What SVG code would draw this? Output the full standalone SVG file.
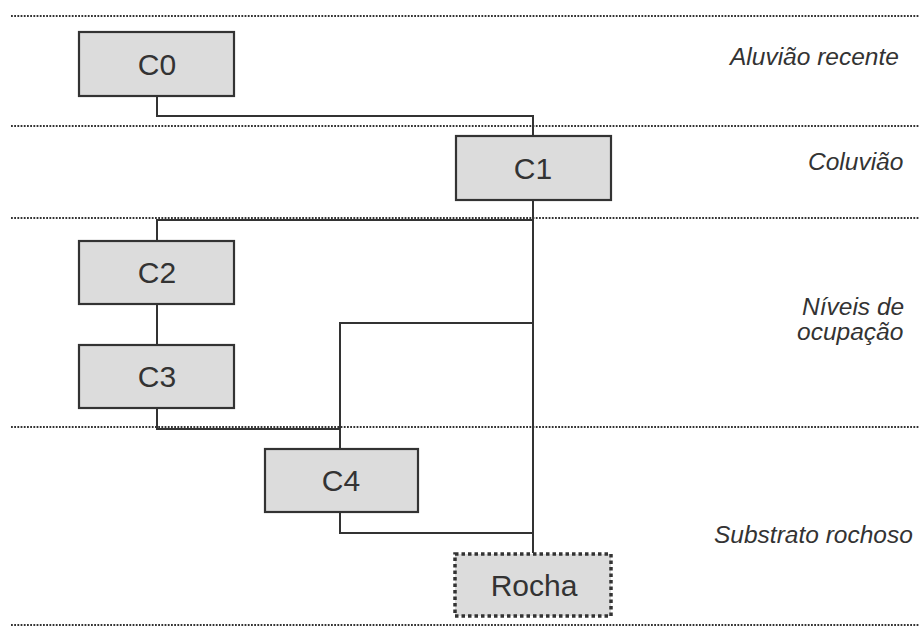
<svg xmlns="http://www.w3.org/2000/svg" width="919" height="627" viewBox="0 0 919 627">
<style>
.bg{fill:#ffffff}
.layer{stroke:#333333;stroke-width:2.2;stroke-dasharray:1.8 1.4;fill:none}
.node rect{fill:#dcdcdc;stroke:#333333;stroke-width:2.2}
.node text{font-family:"Liberation Sans",Arial,sans-serif;font-size:30px;fill:#333333;text-anchor:middle}
#Rocha rect{stroke-dasharray:3.5 3;stroke-width:3.5}
.conn path{fill:none;stroke:#333333;stroke-width:2}
.lbl{font-family:"Liberation Sans",Arial,sans-serif;font-size:24.5px;font-style:italic;fill:#333333}
</style>
<rect class="bg" x="0" y="0" width="919" height="627"/>
<g id="layers">
<line class="layer" x1="11" y1="16" x2="919" y2="16"/>
<line class="layer" x1="11" y1="126" x2="919" y2="126"/>
<line class="layer" x1="11" y1="218" x2="919" y2="218"/>
<line class="layer" x1="11" y1="427" x2="919" y2="427"/>
<line class="layer" x1="11" y1="625" x2="919" y2="625"/>
</g>
<g id="labels">
<text class="lbl" x="730" y="65">Aluvião recente</text>
<text class="lbl" x="808" y="170">Coluvião</text>
<text class="lbl" x="802" y="315">Níveis de</text>
<text class="lbl" x="797" y="340">ocupação</text>
<text class="lbl" x="714" y="543">Substrato rochoso</text>
</g>
<g id="connectors" class="conn">
<path d="M157,96 V116 H533 V136"/>
<path d="M533,200 V553"/>
<path d="M533,220 H157 V241"/>
<path d="M157,304 V345"/>
<path d="M157,408 V429 H340"/>
<path d="M533,323 H340 V449"/>
<path d="M340,512 V533 H533"/>
</g>
<g id="C0" class="node"><rect x="79" y="32" width="155" height="64"/><text x="157" y="75">C0</text></g>
<g id="C1" class="node"><rect x="456" y="136" width="155" height="64"/><text x="533" y="179">C1</text></g>
<g id="C2" class="node"><rect x="79" y="241" width="155" height="63"/><text x="157" y="283">C2</text></g>
<g id="C3" class="node"><rect x="79" y="345" width="155" height="63"/><text x="157" y="387">C3</text></g>
<g id="C4" class="node"><rect x="265" y="449" width="153" height="63"/><text x="341" y="491">C4</text></g>
<g id="Rocha" class="node"><rect x="455" y="554" width="156" height="62"/><text x="534" y="596">Rocha</text></g>
</svg>
